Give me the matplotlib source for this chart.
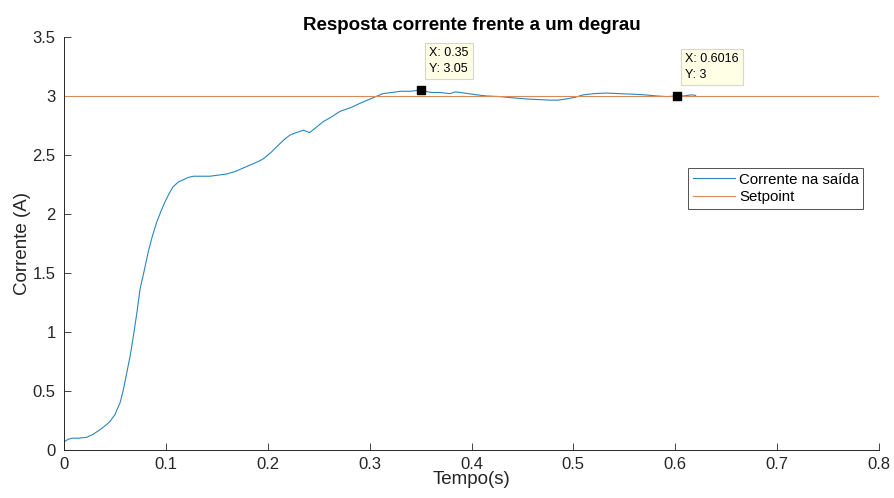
import matplotlib
matplotlib.use("Agg")
import matplotlib.pyplot as plt

plt.rcParams['font.family'] = ['Liberation Sans', 'DejaVu Sans']

t = [0.000, 0.004, 0.008, 0.014, 0.022, 0.028, 0.035, 0.041, 0.045, 0.050, 0.055, 0.058,
     0.0615, 0.065, 0.068, 0.0715, 0.0746, 0.079, 0.083, 0.087, 0.091, 0.095, 0.099,
     0.103, 0.107, 0.112, 0.117, 0.122, 0.127, 0.135, 0.143, 0.152, 0.160, 0.168,
     0.176, 0.184, 0.192, 0.196, 0.203, 0.210, 0.216, 0.222, 0.228, 0.235, 0.241,
     0.247, 0.254, 0.262, 0.271, 0.281, 0.291, 0.302, 0.313, 0.322, 0.330, 0.340,
     0.350, 0.360, 0.369, 0.379, 0.384, 0.389, 0.397, 0.405, 0.415, 0.428, 0.440,
     0.454, 0.465, 0.477, 0.485, 0.493, 0.502, 0.510, 0.520, 0.533, 0.545, 0.559,
     0.570, 0.582, 0.592, 0.6016, 0.608, 0.616, 0.620]
corrente = [0.07, 0.09, 0.10, 0.10, 0.107, 0.13, 0.17, 0.21, 0.24, 0.30, 0.40, 0.50,
            0.65, 0.80, 0.96, 1.16, 1.36, 1.53, 1.69, 1.82, 1.93, 2.02, 2.10,
            2.17, 2.23, 2.27, 2.29, 2.31, 2.32, 2.32, 2.32, 2.33, 2.34, 2.36,
            2.39, 2.42, 2.45, 2.47, 2.52, 2.58, 2.63, 2.67, 2.69, 2.71, 2.69,
            2.73, 2.78, 2.82, 2.87, 2.90, 2.94, 2.98, 3.02, 3.03, 3.04, 3.04,
            3.05, 3.03, 3.03, 3.02, 3.035, 3.03, 3.02, 3.01, 3.00, 2.995, 2.985,
            2.975, 2.97, 2.965, 2.965, 2.975, 2.99, 3.01, 3.02, 3.025, 3.02, 3.015,
            3.01, 3.0, 2.995, 3.0, 3.0, 3.01, 3.005]
setpoint = 3.0
xlim = (0, 0.8)
ylim = (0, 3.5)
xticks = [0, 0.1, 0.2, 0.3, 0.4, 0.5, 0.6, 0.7, 0.8]
xticklabels = ['0', '0.1', '0.2', '0.3', '0.4', '0.5', '0.6', '0.7', '0.8']
yticks = [0, 0.5, 1, 1.5, 2, 2.5, 3, 3.5]
yticklabels = ['0', '0.5', '1', '1.5', '2', '2.5', '3', '3.5']
tips = [(0.35, 3.05, 'X: 0.35\nY: 3.05'), (0.6016, 3.0, 'X: 0.6016\nY: 3')]

fig = plt.figure(figsize=(8.94, 4.98), dpi=100)
ax = fig.add_axes([64/894, 1-450/498, (879-64)/894, (450-37)/498])

l1, = ax.plot(t, corrente, color='#2a86c0', lw=0.8, label='Corrente na saída')
l2 = ax.axhline(setpoint, color='#d98a5a', lw=0.8, label='Setpoint')

ax.set_xlim(*xlim)
ax.set_ylim(*ylim)
ax.set_xticks(xticks)
ax.set_xticklabels(xticklabels)
ax.set_yticks(yticks)
ax.set_yticklabels(yticklabels)
ax.tick_params(direction='in', length=5, width=0.6, labelsize=12, colors='#262626')
ax.tick_params(axis='y', pad=6)
ax.tick_params(axis='x', pad=5)
for s in ['top', 'right']:
    ax.spines[s].set_visible(False)
for s in ['left', 'bottom']:
    ax.spines[s].set_color('#262626')
    ax.spines[s].set_linewidth(0.7)

ax.set_xlabel('Tempo(s)', fontsize=13.5, color='#262626', labelpad=-1)
ax.set_ylabel('Corrente (A)', fontsize=13.5, color='#262626', labelpad=1)
ax.set_title('Resposta corrente frente a um degrau', fontsize=13.5, fontweight='bold', pad=5)

for x, y, txt in tips:
    ax.plot([x], [y], marker='s', color='black', ms=6, zorder=5)
    ax.annotate(txt, xy=(x, y), xytext=(6, 11), textcoords='offset points',
                fontsize=9, va='bottom', ha='left', linespacing=1.4,
                bbox=dict(boxstyle='square,pad=0.35', fc='#FFFFE6', ec='#D8D8C8', lw=0.8),
                zorder=6)

leg = ax.legend(handles=[l1, l2], loc='upper left', bbox_to_anchor=(688/894, 1-168/498),
                bbox_transform=fig.transFigure, fontsize=10.8, frameon=True, fancybox=False,
                edgecolor='#262626', handlelength=2.8, handletextpad=0.3, borderpad=0.3,
                labelspacing=0.25, borderaxespad=0)
leg.get_frame().set_linewidth(0.7)

fig.savefig('out.png', dpi=100)
